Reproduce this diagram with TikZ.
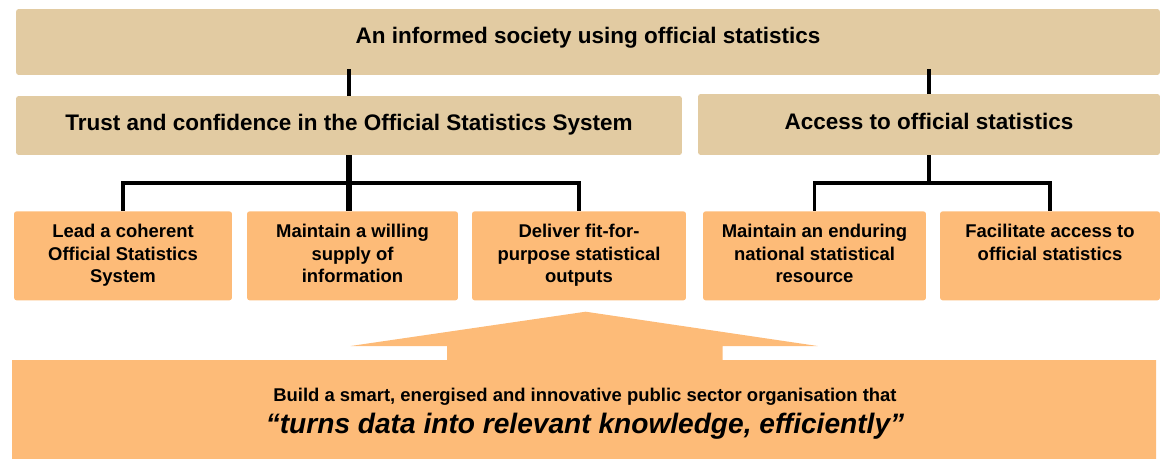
\documentclass[tikz,border=0pt]{standalone}
\usepackage{fontspec}
\setmainfont{Liberation Sans}
\usetikzlibrary{calc}
\definecolor{tanbox}{RGB}{226,203,162}
\definecolor{goalbox}{RGB}{253,187,120}
\newcommand{\goaltext}[1]{\parbox[t][1.26cm][t]{4.1cm}{\centering #1}}

\begin{document}
\begin{tikzpicture}[x=0.02cm,y=-0.02cm,
  head/.style={fill=tanbox,rounded corners=1.5pt,inner sep=0pt,
    font=\fontsize{12.8}{15}\selectfont\bfseries,text height=0.33cm,text depth=0.12cm},
  goal/.style={fill=goalbox,rounded corners=1.5pt,inner xsep=0pt,inner ysep=0.26cm,
    anchor=north,font=\fontsize{10.5}{12.8}\selectfont\bfseries},
  link/.style={line width=1.9pt},
  branch/.style={line width=2.2pt},
  stem/.style={line width=3.4pt}]
\useasboundingbox (0,0) rectangle (1162,459);

\node[head,minimum width=22.88cm,minimum height=1.32cm,text depth=0.25cm] (society) at (588,42) {An informed society using official statistics};
\node[head,minimum width=13.32cm,minimum height=1.18cm] (trust) at (349,125.5) {Trust and confidence in the Official Statistics System};
\node[head,minimum width=9.24cm,minimum height=1.22cm] (access) at (929,124.5) {Access to official statistics};

\node[goal,minimum width=4.36cm] (lead) at (123,211) {\goaltext{Lead a coherent\\Official Statistics\\System}};
\node[goal,minimum width=4.22cm] (supply) at (352.5,211) {\goaltext{Maintain a willing\\supply of\\information}};
\node[goal,minimum width=4.28cm] (outputs) at (579,211) {\goaltext{Deliver fit-for-\\purpose statistical\\outputs}};
\node[goal,minimum width=4.46cm] (resource) at (814.5,211) {\goaltext{Maintain an enduring\\national statistical\\resource}};
\node[goal,minimum width=4.4cm] (facilitate) at (1050,211) {\goaltext{Facilitate access to\\official statistics}};

\draw[link,shorten >=-0.12cm] (trust.north) -- (trust.north |- society.south);
\draw[link,shorten >=-0.12cm] (access.north) -- (access.north |- society.south);

\coordinate (lbar) at ($(trust.south)!0.5!(supply.north)$);
\coordinate (rbar) at ($(access.south)!0.5!(facilitate.north)$);
\draw[branch] (lead.north) |- (lbar) -| (outputs.north);
\draw[stem] (trust.south) -- (trust.south |- supply.north);
\draw[branch] (resource.north) |- (rbar) -| (facilitate.north);
\draw[stem,line width=2.4pt] (access.south) -- (access.south |- rbar);

\fill[goalbox] (12,360) -- (447,360) -- (447,346) -- (350.6,346) -- (585.6,311.7) -- (817.6,346)
  -- (722.7,346) -- (722.7,360) -- (1156,360) -- (1156,459) -- (12,459) -- cycle;
\node[align=center,font=\fontsize{16}{18.2}\selectfont\bfseries] (mission) at (585,414)
  {{\fontsize{10.5}{12}\selectfont Build a smart, energised and innovative public sector organisation that}\\
   {\itshape “turns data into relevant knowledge, efficiently”}};
\end{tikzpicture}
\end{document}
